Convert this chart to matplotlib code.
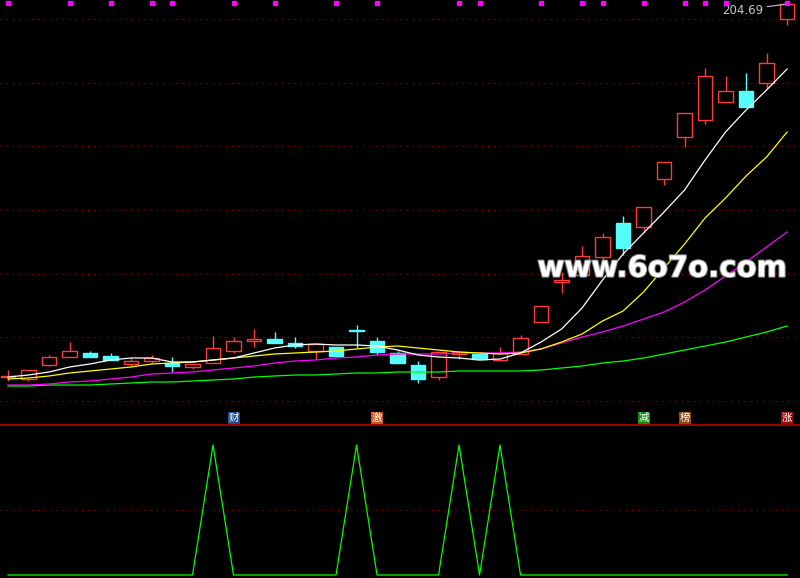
#!/usr/bin/env python3
"""Candlestick chart with moving averages and a signal sub-panel (black terminal style)."""
import numpy as np
import matplotlib
matplotlib.use("Agg")
import matplotlib.pyplot as plt
import matplotlib.patheffects as pe

# daily OHLC
opens = [55.49, 54.69, 60.29, 63.49, 65.09, 63.89, 60.69, 61.89, 61.09, 59.49,
         61.09, 65.89, 69.89, 70.69, 69.09, 65.89, 67.49, 73.89, 69.89, 65.09,
         60.29, 55.49, 64.69, 64.69, 62.29, 64.69, 77.49, 93.49, 96.29, 103.49,
         117.09, 115.49, 134.69, 151.49, 158.29, 165.49, 169.89, 173.09, 198.69]
highs = [58.29, 58.29, 64.29, 69.49, 65.89, 65.09, 63.09, 64.29, 63.49, 60.69,
         71.89, 71.49, 74.69, 73.49, 71.49, 68.69, 67.49, 76.29, 71.49, 65.89,
         61.89, 65.49, 65.89, 65.49, 67.49, 72.29, 83.89, 97.49, 107.89, 113.09,
         119.89, 123.49, 141.49, 161.09, 179.09, 175.89, 177.09, 185.09, 204.69]
lows = [53.89, 53.89, 59.89, 63.49, 63.49, 62.29, 59.89, 61.09, 57.49, 58.69,
        61.09, 65.09, 67.49, 69.09, 67.09, 62.69, 63.49, 67.09, 64.29, 61.09,
        53.09, 54.29, 62.69, 62.69, 62.29, 64.69, 77.49, 89.09, 96.29, 101.49,
        104.29, 113.49, 132.29, 147.49, 156.69, 165.49, 163.49, 170.69, 196.29]
closes = [55.89, 58.29, 63.49, 65.89, 63.49, 62.29, 61.89, 63.09, 59.89, 60.69,
          67.09, 69.89, 70.69, 69.09, 67.89, 68.69, 63.89, 73.79, 65.49, 61.09,
          54.69, 65.49, 65.49, 62.69, 65.09, 71.09, 83.89, 94.29, 103.89, 111.49,
          107.09, 123.49, 141.49, 161.09, 175.89, 169.89, 163.49, 181.09, 204.69]

# moving averages as drawn
ma_white = [55.49, 56.29, 57.49, 59.49, 60.69, 62.29, 63.09, 63.09, 61.49, 61.49,
            62.29, 63.09, 65.09, 67.09, 68.29, 68.69, 68.29, 68.29, 67.89, 66.29,
            64.29, 63.49, 63.09, 62.29, 62.69, 65.09, 69.49, 74.69, 83.09, 94.29,
            104.69, 113.09, 121.49, 130.29, 142.29, 153.49, 162.29, 170.29, 178.69]
ma_yellow = [54.69, 55.09, 55.89, 57.09, 57.89, 58.69, 59.49, 60.69, 61.09, 61.49,
             62.29, 63.09, 63.89, 64.69, 65.09, 65.49, 65.89, 66.69, 67.49, 67.89,
             67.09, 66.29, 65.49, 65.09, 64.69, 65.09, 66.69, 69.49, 72.69, 77.89,
             81.89, 89.49, 99.09, 108.69, 119.09, 127.09, 135.89, 143.49, 153.49]
ma_magenta = [52.29, 52.29, 52.69, 53.49, 53.89, 54.69, 55.49, 56.69, 57.09, 57.49,
              58.29, 59.09, 59.89, 61.09, 61.89, 62.29, 63.09, 63.49, 64.29, 64.69,
              64.69, 64.69, 65.09, 65.09, 65.09, 65.49, 66.69, 69.09, 71.49, 73.49,
              75.89, 78.69, 81.49, 85.49, 90.29, 95.89, 101.49, 107.49, 113.49]
ma_green = [51.89, 51.89, 52.29, 52.29, 52.29, 52.69, 53.09, 53.49, 53.49, 53.89,
            54.29, 54.69, 55.49, 55.89, 56.29, 56.29, 56.69, 57.09, 57.09, 57.49,
            57.49, 57.49, 57.89, 57.89, 57.89, 57.89, 58.29, 59.09, 59.89, 61.09,
            61.89, 63.09, 64.69, 66.29, 67.89, 69.49, 71.49, 73.49, 75.89]

# markers
dot_days = [0, 3, 5, 7, 8, 11, 13, 16, 18, 22, 23, 26, 28, 29, 31, 33, 34, 35, 38]
tag_days = [11, 18, 31, 33, 38]
tag_texts = ["财", "激", "减", "榜", "涨"]
tag_colors = ["#1b4f8c", "#c8561a", "#148c14", "#8a4a14", "#9c0a0a"]
signal = [0, 0, 0, 0, 0, 0, 0, 0, 0, 0,
          1, 0, 0, 0, 0, 0, 0, 1, 0, 0,
          0, 0, 1, 0, 1, 0, 0, 0, 0, 0,
          0, 0, 0, 0, 0, 0, 0, 0, 0]

UP = "#ff3c3c"
DOWN = "#54fcfc"
GRID = "#8c0000"

plt.rcParams["font.family"] = ["DejaVu Sans", "Noto Sans CJK SC"]

x = np.arange(len(closes))
o = np.array(opens)
c = np.array(closes)
up = c >= o

fig = plt.figure(figsize=(8, 5.78), dpi=100, facecolor="black")
ax = fig.add_axes([0, 153 / 578, 1, 425 / 578], facecolor="black")
ax2 = fig.add_axes([0, 0, 1, 153 / 578], facecolor="black")

xlim = (-0.39, 38.63)
for a in (ax, ax2):
    a.set_xlim(*xlim)
    a.set_xticks([])
    for s in a.spines.values():
        s.set_visible(False)
ax.set_ylim(36.29, 206.29)
ax2.set_ylim(-0.023, 1.154)

# dotted grid
ax.set_yticks(np.linspace(45.89, 198.69, 7))
ax.yaxis.grid(True, color=GRID, linestyle=(0, (1, 4)), linewidth=0.9)
ax.tick_params(left=False, labelleft=False)
ax2.set_yticks([0.5])
ax2.yaxis.grid(True, color=GRID, linestyle=(0, (1, 4)), linewidth=0.9)
ax2.tick_params(left=False, labelleft=False)
ax2.spines["top"].set_visible(True)
ax2.spines["top"].set_color("#b40000")
ax2.spines["top"].set_linewidth(1.2)

# candles
colors = np.where(up, UP, DOWN)
ax.vlines(x, lows, highs, colors=colors, linewidth=1.0, zorder=2)
body = np.where(np.abs(c - o) < 0.3, 0.3, c - o)
ax.bar(x[up], body[up], bottom=o[up], width=0.72, facecolor="black",
       edgecolor=UP, linewidth=1.0, zorder=3)
ax.bar(x[~up], body[~up], bottom=o[~up], width=0.72, facecolor=DOWN,
       edgecolor=DOWN, linewidth=1.0, zorder=3)

# moving averages on top
ax.plot(x, ma_green, color="#00ff00", linewidth=0.9, zorder=4)
ax.plot(x, ma_magenta, color="#ff00ff", linewidth=0.9, zorder=4)
ax.plot(x, ma_yellow, color="#ffff00", linewidth=0.9, zorder=4)
ax.plot(x, ma_white, color="#ffffff", linewidth=0.9, zorder=4)

# magenta day markers along the top
ax.plot(dot_days, [0.994] * len(dot_days), "s", color="#ff00ff", markersize=2.4,
        transform=ax.get_xaxis_transform(), clip_on=False, zorder=5)

# tag characters above the separator
for d, t, col in zip(tag_days, tag_texts, tag_colors):
    ax.text(d, 0.016, t, transform=ax.get_xaxis_transform(), ha="center", va="center",
            fontsize=7.5, color="white", family=["Noto Sans CJK SC"],
            bbox=dict(boxstyle="square,pad=0.08", facecolor=col, edgecolor="none"))

# highest price label
top = int(np.argmax(highs))
ax.annotate(f"{highs[top]:.2f}", (x[top], highs[top]), xytext=(-24, -6),
            textcoords="offset pixels", ha="right", va="center", fontsize=8.5,
            color="#c8c8c8",
            arrowprops=dict(arrowstyle="-", color="#c8c8c8", lw=0.8,
                            shrinkA=1, shrinkB=0))

# watermark
ax.text(0.8275, 0.368, "www.6o7o.com", transform=ax.transAxes, ha="center",
        va="center", fontsize=21, fontweight="bold", color="white", zorder=6,
        path_effects=[pe.withStroke(linewidth=1.5, foreground="#909090")])

# signal sub-panel
ax2.plot(x, signal, color="#00ff00", linewidth=0.9)

fig.savefig("out.png", dpi=100, facecolor="black")
print("plot saved to out.png")
